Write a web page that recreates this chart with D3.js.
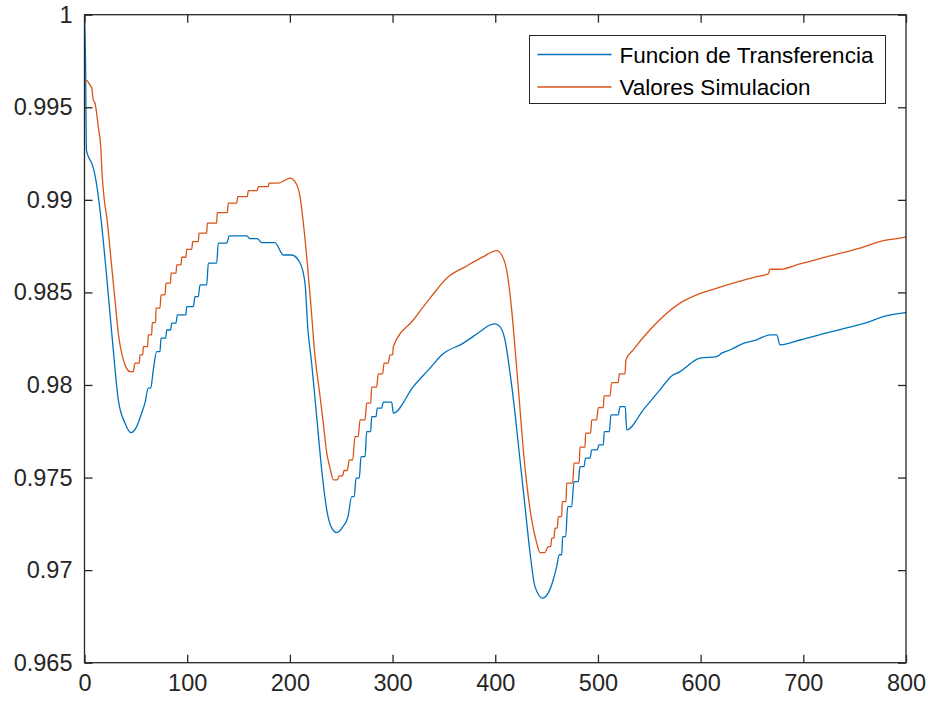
<!DOCTYPE html>
<html>
<head>
<meta charset="utf-8">
<script src="https://cdn.jsdelivr.net/npm/d3@7"></script>
<style>
  html, body { margin: 0; padding: 0; background: #ffffff; }
  svg { display: block; }
</style>
</head>
<body>
<svg id="chart" width="928" height="703"></svg>
<script>
// Sample index (x) and output value (y) for each series
const funcionX = [0, 1, 1.9, 4.4, 7, 10.2, 15.1, 21.6, 28, 32.9, 39.4, 45.3, 50.8, 55.7, 58.9,
  62.1, 64.5, 67, 70.3, 73.5, 74.5, 79.1, 80, 83.9, 84.9, 89.1, 90.4, 98.8, 99.5, 106,
  107.6, 110.8, 112.5, 119, 120.6, 128.7, 130.3, 138.5, 141, 158, 161.2, 168.3, 172.6, 185.5,
  193.6, 201.8, 209.9, 214.7, 217.6, 221.2, 226.1, 231, 235.9, 240.7, 245.6, 251.7, 256.6,
  260.2, 262.7, 264.4, 267.6, 269.3, 273.2, 274.8, 278.7, 279.7, 283.9, 285.1, 289.4, 291, 299.2,
  300.7, 320.2, 336.5, 347.8, 368.9, 385.1, 394.9, 399.8, 404.6, 409.5, 414.4, 419.2, 424.1, 429,
  433.9, 438.7, 446.2, 451.6, 456.5, 459.8, 462.4, 464.7, 465.7, 468.6, 470.5, 474.4, 476.7,
  480.9, 482.5, 486.4, 488, 492.3, 493.9, 499.4, 501, 505.2, 506.2, 511.1, 512.7, 519.8,
  521.5, 526.6, 528, 544.5, 560.4, 571.8, 580, 586.4, 591.3, 599.3, 615.6, 620.5, 630.2, 638.3,
  654.6, 667.5, 674.1, 677.3, 696.8, 722.8, 742.2, 761.7, 777.9, 799, 800];
const funcionY = [1.0, 0.99755, 0.99269, 0.99226, 0.99199, 0.99134, 0.98946, 0.98585, 0.98190,
  0.97920, 0.97795, 0.97743, 0.97775, 0.97849, 0.97903,
  0.97983, 0.97983, 0.98082, 0.98180, 0.98180, 0.98253, 0.98253, 0.98297, 0.98297, 0.98334,
  0.98334, 0.98379, 0.98379, 0.98423, 0.98423,
  0.98477, 0.98477, 0.98541, 0.98541, 0.98658, 0.98658, 0.98766, 0.98766, 0.98805, 0.98805,
  0.98790, 0.98790, 0.98769, 0.98769,
  0.98702, 0.98702, 0.98659, 0.98551, 0.98297, 0.98119, 0.97829, 0.97542, 0.97326, 0.97228,
  0.97203, 0.97235, 0.97289,
  0.97397, 0.97397, 0.97497, 0.97497, 0.97613, 0.97613, 0.97748, 0.97748, 0.97829, 0.97829,
  0.97875, 0.97875, 0.97907, 0.97907,
  0.97848, 0.97991, 0.98091, 0.98162, 0.98226, 0.98288, 0.98324, 0.98330, 0.98315, 0.98243,
  0.98065, 0.97849, 0.97595, 0.97343,
  0.97093, 0.96911, 0.96849, 0.96877, 0.96948, 0.97019, 0.97083, 0.97083, 0.97181, 0.97181,
  0.97343, 0.97343, 0.97478,
  0.97478, 0.97559, 0.97559, 0.97605, 0.97605, 0.97650, 0.97650, 0.97677, 0.97677, 0.97748,
  0.97748, 0.97839, 0.97839,
  0.97883, 0.97883, 0.97758, 0.97868, 0.97974, 0.98049, 0.98072, 0.98099, 0.98121, 0.98145,
  0.98153, 0.98172, 0.98193, 0.98217,
  0.98244, 0.98271, 0.98271, 0.98217, 0.98243, 0.98281, 0.98308, 0.98337, 0.98369, 0.98391, 0.98392];

const simulacionX = [0, 1.5, 5.4, 7, 8.6, 10.2, 13.4, 15.8, 17.3, 19.3, 21.6, 26.5, 29.7, 32.9,
  37.8, 41, 44.3, 47.5, 49.2, 53.4, 54.0, 56.7, 57.3, 61.5, 62.1, 65.4, 66.0, 69.3, 69.6, 73.5,
  74.5, 78.4, 79.4, 83.9, 84.2, 89.1, 89.8, 94.0, 94.7, 98.8, 99.5, 104.4, 105.4, 110.8, 111.5,
  119.0, 119.6, 128.7, 129.3, 139.1, 140.0, 148.2, 149.2, 158.5, 159.5, 168.3, 169.2, 179.0,
  179.7, 188.7, 195, 200.1, 205, 209.9, 213.1, 216.4, 220.3, 224.5, 228.6, 232.5, 235.9,
  239.1, 242.3, 246.2, 248.1, 251.4, 252.7, 255.9, 257.9, 261.2, 263.4, 266.6, 268.3, 273.2,
  274.8, 278.7, 279.7, 284.5, 286.1, 290.4, 291.7, 295.8, 297.5, 300.1, 300.7, 320.2, 336.5,
  352.7, 372.2, 388.4, 401.4, 406.3, 411.1, 416, 420.2, 423.4, 427.3, 430.6, 435.5,
  440.4, 443.6, 448.4, 451.6, 454, 455, 457.2, 458.2, 460.4, 461.4, 464.7, 465.3, 468.9,
  469.6, 475.4, 476.7, 481.8, 482.5, 487.4, 488, 492.9, 493.9, 498.8, 500.3, 505.2, 505.9,
  511.7, 513.4, 519.8, 520.8, 526.3, 527.3, 534.4, 550.7, 567, 579.9, 596.2, 612.3,
  631.8, 654.6, 665.9, 667.5, 677.3, 696.8, 717.9, 729.2, 755.2, 777.9, 799, 800];
const simulacionY = [0.99647, 0.99647, 0.99620, 0.99604, 0.99539, 0.99523, 0.99395, 0.99287,
  0.99125, 0.98999, 0.98909, 0.98639, 0.98459, 0.98281,
  0.98136, 0.98090, 0.98072, 0.98072, 0.98118, 0.98118, 0.98163, 0.98163, 0.98207, 0.98207,
  0.98271, 0.98271, 0.98337, 0.98337, 0.98415, 0.98415,
  0.98487, 0.98487, 0.98550, 0.98550, 0.98604, 0.98604, 0.98649, 0.98649, 0.98690, 0.98690,
  0.98733, 0.98733, 0.98774, 0.98774, 0.98820,
  0.98820, 0.98874, 0.98874, 0.98931, 0.98931, 0.98982, 0.98982, 0.99017, 0.99017, 0.99050,
  0.99050, 0.99071, 0.99071,
  0.99090, 0.99090, 0.99105, 0.99117, 0.99098, 0.99017, 0.98875, 0.98693, 0.98443, 0.98153,
  0.97973, 0.97795, 0.97633,
  0.97552, 0.97488, 0.97488, 0.97509, 0.97509, 0.97538, 0.97538, 0.97596, 0.97596, 0.97721,
  0.97721, 0.97812, 0.97812,
  0.97902, 0.97902, 0.97988, 0.97988, 0.98060, 0.98060, 0.98118, 0.98118, 0.98163, 0.98163,
  0.98207, 0.98351, 0.98469,
  0.98577, 0.98643, 0.98693, 0.98726, 0.98702, 0.98621, 0.98406, 0.98136, 0.97920,
  0.97650, 0.97470, 0.97272,
  0.97146, 0.97095, 0.97095, 0.97127, 0.97127, 0.97173, 0.97173, 0.97227, 0.97227, 0.97289,
  0.97289, 0.97370, 0.97370,
  0.97470, 0.97470, 0.97578, 0.97578, 0.97664, 0.97664, 0.97740, 0.97740, 0.97812, 0.97812,
  0.97878, 0.97878, 0.97941,
  0.97941, 0.98013, 0.98013, 0.98060, 0.98060, 0.98136, 0.98190, 0.98298, 0.98388, 0.98442,
  0.98487, 0.98517,
  0.98550, 0.98585, 0.98600, 0.98625, 0.98625, 0.98654, 0.98685, 0.98702,
  0.98739, 0.98780, 0.98798, 0.98800];

const seriesNames = ["Funcion de Transferencia", "Valores Simulacion"];
const seriesColors = ["#0072BD", "#D95319"];

const xTicks = [0, 100, 200, 300, 400, 500, 600, 700, 800];
const yTicks = [0.965, 0.97, 0.975, 0.98, 0.985, 0.99, 0.995, 1];
const yTickLabels = ["0.965", "0.97", "0.975", "0.98", "0.985", "0.99", "0.995", "1"];

const margin = { left: 84.5, right: 22, top: 14.7, bottom: 40.3 };
const width = 928, height = 703;
const axisColor = "#262626";
const fontFamily = "'Liberation Sans', Arial, Helvetica, sans-serif";

const svg = d3.select("#chart");

const x = d3.scaleLinear().domain([0, 800]).range([margin.left, width - margin.right]);
const y = d3.scaleLinear().domain([0.965, 1]).range([height - margin.bottom, margin.top]);

const plotW = x.range()[1] - x.range()[0];
const plotH = y.range()[0] - y.range()[1];

// clip lines to the axes box
svg.append("defs").append("clipPath").attr("id", "plot-clip")
  .append("rect")
  .attr("x", x.range()[0]).attr("y", y.range()[1])
  .attr("width", plotW).attr("height", plotH);

const series = [
  funcionX.map((d, i) => [d, funcionY[i]]),
  simulacionX.map((d, i) => [d, simulacionY[i]])
];

const line = d3.line()
  .curve(d3.curveMonotoneX)
  .x(d => x(d[0]))
  .y(d => y(d[1]));

const lines = svg.append("g").attr("clip-path", "url(#plot-clip)");
series.forEach((s, i) => {
  lines.append("path")
    .datum(s)
    .attr("fill", "none")
    .attr("stroke", seriesColors[i])
    .attr("stroke-width", 1.3)
    .attr("stroke-linejoin", "round")
    .attr("d", line);
});

// axes: ticks pointing inward on all four sides
const tickLen = 8;
function styleAxis(g) {
  g.select(".domain").remove();
  g.selectAll(".tick line").attr("stroke", axisColor).attr("stroke-width", 1.3);
  g.selectAll(".tick text")
    .attr("fill", axisColor)
    .style("font-family", fontFamily)
    .style("font-size", "23.5px");
}

svg.append("g")
  .attr("transform", `translate(0,${y.range()[0]})`)
  .call(d3.axisBottom(x).tickValues(xTicks).tickFormat(d3.format("d"))
    .tickSizeInner(-tickLen).tickSizeOuter(0).tickPadding(12))
  .call(styleAxis)
  .call(g => g.selectAll(".tick text").attr("dy", "0.71em"));

svg.append("g")
  .attr("transform", `translate(0,${y.range()[1]})`)
  .call(d3.axisTop(x).tickValues(xTicks).tickFormat("")
    .tickSizeInner(-tickLen).tickSizeOuter(0))
  .call(styleAxis);

svg.append("g")
  .attr("transform", `translate(${x.range()[0]},0)`)
  .call(d3.axisLeft(y).tickValues(yTicks).tickFormat((d, i) => yTickLabels[i])
    .tickSizeInner(-tickLen).tickSizeOuter(0).tickPadding(12))
  .call(styleAxis);

svg.append("g")
  .attr("transform", `translate(${x.range()[1]},0)`)
  .call(d3.axisRight(y).tickValues(yTicks).tickFormat("")
    .tickSizeInner(-tickLen).tickSizeOuter(0))
  .call(styleAxis);

// axes box
svg.append("rect")
  .attr("x", x.range()[0]).attr("y", y.range()[1])
  .attr("width", plotW).attr("height", plotH)
  .attr("fill", "none")
  .attr("stroke", axisColor)
  .attr("stroke-width", 1.3);

// legend
const legend = svg.append("g").attr("transform", "translate(529.5,35.5)");
legend.append("rect")
  .attr("width", 356).attr("height", 68)
  .attr("fill", "#ffffff")
  .attr("stroke", axisColor)
  .attr("stroke-width", 1);

seriesNames.forEach((name, i) => {
  const cy = 19 + i * 32.5;
  legend.append("line")
    .attr("x1", 8).attr("x2", 82)
    .attr("y1", cy).attr("y2", cy)
    .attr("stroke", seriesColors[i])
    .attr("stroke-width", 1.3);
  legend.append("text")
    .attr("x", 90).attr("y", cy)
    .attr("dy", "0.36em")
    .attr("fill", "#000000")
    .style("font-family", fontFamily)
    .style("font-size", "22.5px")
    .text(name);
});
</script>
</body>
</html>
